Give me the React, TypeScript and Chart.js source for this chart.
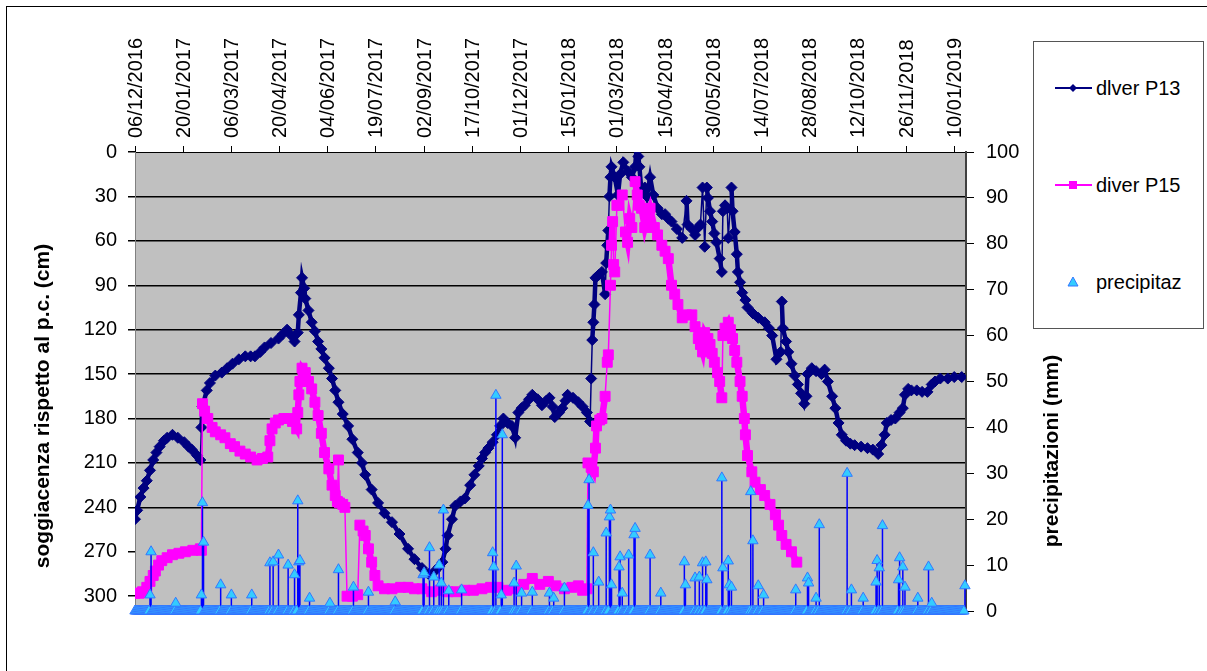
import React, { useEffect, useRef } from "react";
import { Chart, registerables } from "chart.js";

Chart.register(...registerables);

// ---------------- DATA ----------------
// x = days since 06/12/2016
const X_MAX_DAY = 776;
const TICK_STEP_DAYS = 45;

const dateTickLabels = [
  "06/12/2016", "20/01/2017", "06/03/2017", "20/04/2017", "04/06/2017", "19/07/2017",
  "02/09/2017", "17/10/2017", "01/12/2017", "15/01/2018", "01/03/2018", "15/04/2018",
  "30/05/2018", "14/07/2018", "28/08/2018", "12/10/2018", "26/11/2018", "10/01/2019",
];

// diver P13 (cm below ground level)
const p13Series: [number, number][] = [
  [0,248],[2,242],[5,233],[8,227],[11,222],[14,215],[17,208],[20,203],[23,199],[27,195],[30,193],[35,191],
  [40,193],[46,196],[50,199],[53,201],[58,205],[61,208],[62,186],[63,172],[67,161],[70,156],[75,151],
  [81,149],[86,146],[91,143],[97,140],[103,138],[108,138],[112,138],[117,135],[121,132],[127,129],
  [134,126],[138,123],[142,120],[146,124],[149,128],[152,122],[153,110],[155,95],[156,85],[158,92],
  [159,99],[162,107],[165,115],[168,121],[171,128],[174,133],[177,139],[181,146],[184,153],[187,161],
  [190,169],[194,177],[199,185],[203,194],[208,203],[212,210],[215,218],[221,228],[227,237],[233,244],
  [240,250],[247,258],[255,268],[261,275],[268,281],[274,285],[280,283],[284,280],[287,277],[290,268],
  [292,259],[296,248],[299,239],[304,236],[308,234],[313,225],[317,218],[321,212],[324,207],[327,203],
  [330,200],[334,196],[338,191],[341,185],[344,180],[348,183],[352,185],[355,193],[358,176],[361,173],
  [364,171],[368,167],[371,164],[376,167],[380,171],[384,168],[387,166],[390,172],[392,179],[396,176],
  [399,173],[402,168],[404,164],[409,166],[414,169],[418,172],[422,176],[425,182],[426,153],[427,127],
  [428,115],[429,103],[430,85],[433,83],[436,81],[439,96],[440,75],[441,63],[442,53],[443,30],[444,17],
  [445,10],[448,17],[451,29],[453,15],[456,7],[460,13],[464,17],[467,10],[469,-8],[470,3],[471,10],
  [473,27],[476,24],[478,30],[481,17],[484,29],[488,38],[492,42],[495,42],[498,45],[501,47],[506,52],
  [511,58],[515,33],[516,49],[520,52],[523,56],[526,51],[528,49],[530,24],[532,64],[534,24],[535,31],
  [537,40],[539,47],[541,55],[543,61],[546,72],[548,81],[549,40],[551,36],[553,38],[554,58],[557,24],
  [558,40],[560,54],[562,69],[563,81],[565,88],[567,95],[570,100],[572,105],[577,109],[582,112],
  [588,115],[592,119],[595,124],[599,140],[603,135],[604,101],[605,119],[608,128],[610,135],[613,143],
  [616,151],[619,157],[622,163],[625,170],[627,165],[628,150],[632,146],[636,148],[641,150],[644,147],
  [647,155],[651,165],[654,173],[657,183],[660,191],[664,195],[668,197],[672,198],[678,199],[684,200],
  [689,201],[694,204],[697,198],[700,191],[702,183],[706,181],[710,180],[714,176],[717,173],[719,164],
  [722,160],[725,161],[730,161],[735,162],[740,162],[744,157],[747,155],[752,153],[759,153],[765,152],
  [772,152],
];

// diver P15 (cm below ground level)
const p15Series: [number, number][] = [
  [0,298],[4,298],[7,297],[11,294],[14,290],[17,286],[19,283],[22,279],[25,276],[30,274],[35,272],
  [41,271],[47,270],[54,269],[61,268],[62,269],[63,170],[65,175],[68,180],[72,186],[75,189],[80,191],
  [84,193],[89,197],[93,199],[98,202],[103,204],[108,206],[114,208],[119,207],[124,206],[126,195],
  [128,187],[131,183],[134,181],[139,180],[143,180],[147,182],[151,187],[152,176],[153,164],[154,155],
  [156,146],[159,149],[162,155],[165,160],[168,169],[171,178],[174,190],[177,203],[181,214],[184,225],
  [187,232],[189,236],[190,208],[191,237],[194,238],[196,240],[198,300],[203,300],[208,299],[210,252],
  [213,256],[215,259],[218,268],[221,277],[224,286],[227,293],[233,295],[240,295],[248,294],[255,294],
  [261,295],[268,295],[277,297],[285,296],[292,297],[300,297],[308,296],[316,296],[324,295],[332,294],
  [339,294],[347,296],[355,295],[363,292],[371,288],[378,292],[386,290],[393,293],[401,295],[408,294],
  [414,293],[418,296],[422,295],[423,210],[426,213],[428,216],[430,200],[431,185],[434,181],[436,180],
  [439,165],[441,142],[442,137],[444,90],[445,63],[446,47],[447,76],[448,81],[450,36],[452,36],[455,29],
  [458,54],[460,61],[462,45],[464,51],[467,20],[469,29],[471,36],[473,38],[476,51],[478,45],[481,38],
  [485,51],[488,56],[492,63],[495,67],[498,72],[501,90],[504,96],[507,103],[511,112],[515,110],
  [520,110],[523,118],[526,126],[528,130],[530,135],[532,122],[535,126],[537,130],[539,136],[541,142],
  [544,149],[546,155],[548,166],[549,124],[551,119],[554,115],[556,120],[558,126],[560,134],[562,142],
  [565,155],[567,165],[569,180],[570,191],[572,205],[576,216],[579,223],[584,228],[588,232],[593,238],
  [598,245],[601,252],[604,259],[608,265],[613,270],[618,277],
];

// precipitation events (day, mm); every other recorded day is 0 mm
const RAIN_RECORD_FIRST_DAY = 0;
const RAIN_RECORD_LAST_DAY = 775;
const rainEvents: [number, number][] = [
  [14,3.5],[15,12.9],[38,1.7],[62,3.5],[63,23.6],[64,15],[80,5.7],[90,3.5],[109,3.5],[126,10.5],
  [129,10.7],[134,12.2],[143,10],[149,7.9],[152,24],[153,10.7],[154,11],[163,2.8],[182,1.7],[190,9],
  [204,5.2],[218,4.1],[243,2],[269,7.9],[270,8.3],[275,13.8],[279,7.4],[284,10],[286,6.1],[288,22],
  [293,4.4],[305,4.6],[334,12.7],[335,9.6],[337,47],[342,3.5],[343,38.4],[354,6.1],[356,9.8],
  [361,3.9],[371,4.1],[387,3.9],[391,2.8],[401,5],[423,23],[424,28.6],[428,12.7],[433,6.3],[440,17],
  [443,20.5],[444,22],[445,5.7],[452,9.6],[453,11.8],[455,3.9],[461,12.2],[466,16.6],[467,18],
  [481,12.2],[491,3.9],[513,10.7],[514,5.7],[523,7.2],[527,7.4],[530,10.5],[533,10.7],[534,6.8],
  [548,29],[549,9.4],[554,10.9],[555,5.7],[557,5.2],[575,26],[577,15.3],[582,5.5],[587,3.5],
  [617,4.6],[628,7.2],[629,6.1],[636,2.8],[639,18.8],[665,30],[669,4.6],[680,2.8],[692,6.3],
  [693,11],[695,9.4],[698,18.6],[713,6.8],[714,11.6],[717,9.6],[719,5.2],[731,2.8],[741,9.6],
  [744,1.7],[775,5.5],
];

// ---------------- STYLE ----------------
const FONT = '"Liberation Sans", Arial, sans-serif';
const NAVY = "#000080";
const MAGENTA = "#FF00FF";
const TRI_FILL = "#33CCFF";
const TRI_BORDER = "#3377FF";
const DROP = "#0000FF";

const bgPlugin = {
  id: "plotBg",
  beforeDraw(chart: any) {
    const { ctx, chartArea } = chart;
    ctx.save();
    ctx.fillStyle = "#C0C0C0";
    ctx.fillRect(chartArea.left, chartArea.top, chartArea.right - chartArea.left, chartArea.bottom - chartArea.top);
    ctx.restore();
  },
};

const titlesPlugin = {
  id: "axisTitles",
  afterDraw(chart: any) {
    const { ctx } = chart;
    const draw = (text: string, x: number, y: number) => {
      ctx.save();
      ctx.translate(x, y);
      ctx.rotate(-Math.PI / 2);
      ctx.font = `bold 21px ${FONT}`;
      ctx.fillStyle = "#000";
      ctx.textAlign = "center";
      ctx.textBaseline = "middle";
      ctx.fillText(text, 0, 0);
      ctx.restore();
    };
    draw("soggiacenza rispetto al p.c. (cm)", 43, 406);
    draw("precipitazioni (mm)", 1052, 451);
  },
};

const segWidth = (thick: number) => (c: any) =>
  Math.hypot(c.p1.x - c.p0.x, c.p1.y - c.p0.y) > 28 ? 1.5 : thick;

export default function App() {
  const ref = useRef<HTMLCanvasElement | null>(null);

  useEffect(() => {
    if (!ref.current) return;
    const eventDays = new Set(rainEvents.map((e) => e[0]));
    const rainPoints: { x: number; y: number }[] = [];
    for (let d = RAIN_RECORD_FIRST_DAY; d <= RAIN_RECORD_LAST_DAY; d++) {
      if (!eventDays.has(d)) rainPoints.push({ x: d, y: 0 });
    }
    rainEvents.forEach(([d, mm]) => rainPoints.push({ x: d, y: mm }));
    const dropPoints: { x: number; y: number | null }[] = [];
    rainEvents.forEach(([d, mm]) => {
      dropPoints.push({ x: d, y: 0 }, { x: d, y: mm }, { x: d, y: null });
    });

    const chart = new Chart(ref.current, {
      type: "line",
      data: {
        datasets: [
          {
            label: "precipitaz",
            data: rainPoints,
            yAxisID: "y1",
            showLine: false,
            pointStyle: "triangle",
            pointRadius: 6,
            pointBackgroundColor: TRI_FILL,
            pointBorderColor: TRI_BORDER,
            pointBorderWidth: 1,
            order: 0,
            clip: false,
          } as any,
          {
            label: "drop",
            data: dropPoints,
            yAxisID: "y1",
            borderColor: DROP,
            borderWidth: 1.5,
            pointRadius: 0,
            spanGaps: false,
            order: 1,
          } as any,
          {
            label: "dlver P13",
            data: p13Series.map(([x, y]) => ({ x, y })),
            yAxisID: "y",
            borderColor: NAVY,
            borderWidth: 4,
            pointStyle: "rectRot",
            pointRadius: 5.5,
            pointBackgroundColor: NAVY,
            pointBorderColor: NAVY,
            pointBorderWidth: 1,
            tension: 0,
            segment: { borderWidth: segWidth(4.5) },
            order: 3,
          } as any,
          {
            label: "diver P15",
            data: p15Series.map(([x, y]) => ({ x, y })),
            yAxisID: "y",
            borderColor: MAGENTA,
            borderWidth: 6,
            pointStyle: "rect",
            pointRadius: 7,
            pointBackgroundColor: MAGENTA,
            pointBorderColor: MAGENTA,
            pointBorderWidth: 1,
            tension: 0,
            segment: { borderWidth: segWidth(6.5) },
            order: 2,
          } as any,
        ],
      },
      options: {
        animation: false,
        responsive: false,
        maintainAspectRatio: false,
        events: [],
        layout: { padding: { left: 0, right: 0, top: 0, bottom: 60 } },
        plugins: { legend: { display: false }, tooltip: { enabled: false } },
        scales: {
          x: {
            type: "linear",
            position: "top",
            min: 0,
            max: X_MAX_DAY,
            ticks: {
              stepSize: TICK_STEP_DAYS,
              autoSkip: false,
              includeBounds: false,
              minRotation: 90,
              maxRotation: 90,
              padding: 8,
              labelOffset: 25,
              color: "#000",
              font: { family: FONT, size: 20 },
              callback: (v: any) => dateTickLabels[Math.round(Number(v) / TICK_STEP_DAYS)] ?? "",
            },
            grid: { drawOnChartArea: false, tickLength: 6, color: "#000", tickColor: "#000" },
            border: { color: "#000", width: 1 },
            afterFit: (s: any) => { s.height = 152; },
          },
          y: {
            type: "linear",
            position: "left",
            reverse: true,
            min: 0,
            max: 310,
            ticks: {
              stepSize: 30,
              includeBounds: false,
              padding: 11,
              color: "#000",
              font: { family: FONT, size: 20 },
            },
            grid: {
              tickLength: 7,
              lineWidth: 1.5,
              tickColor: "#000",
              color: (c: any) => {
                const v = c.tick ? c.tick.value : 0;
                return v > 0 && v <= 240 ? "#000" : "rgba(0,0,0,0)";
              },
            },
            border: { color: "#808080", width: 1 },
            afterFit: (s: any) => { s.width = 135; },
          },
          y1: {
            type: "linear",
            position: "right",
            min: 0,
            max: 100,
            ticks: {
              stepSize: 10,
              includeBounds: false,
              padding: 12,
              color: "#000",
              font: { family: FONT, size: 20 },
            },
            grid: { drawOnChartArea: false, tickLength: 8, color: "#000", tickColor: "#000" },
            border: { color: "#404040", width: 2 },
            afterFit: (s: any) => { s.width = 1207 - 966; },
          },
        },
      } as any,
      plugins: [bgPlugin, titlesPlugin],
    });
    return () => chart.destroy();
  }, []);

  const legendRow = (top: number, symbol: React.ReactNode, text: string) => (
    <div
      style={{
        position: "absolute",
        left: 1052,
        top: top - 14,
        height: 28,
        display: "flex",
        alignItems: "center",
        whiteSpace: "nowrap",
      }}
    >
      <svg width={42} height={20} style={{ display: "block" }}>{symbol}</svg>
      <span style={{ fontFamily: FONT, fontSize: 20, color: "#000", marginLeft: 2 }}>{text}</span>
    </div>
  );

  return (
    <div
      style={{
        position: "absolute",
        left: 0,
        top: 0,
        width: 1207,
        height: 671,
        overflow: "hidden",
        background: "#fff",
      }}
    >
      <div
        style={{
          position: "absolute",
          left: 6,
          top: 6,
          width: 1400,
          height: 900,
          borderTop: "1px solid #000",
          borderLeft: "1px solid #000",
        }}
      />
      <canvas ref={ref} width={1207} height={671} style={{ position: "absolute", left: 0, top: 0 }} />
      <div
        style={{
          position: "absolute",
          left: 1033,
          top: 41,
          width: 169,
          height: 286,
          border: "1px solid #555",
          background: "#fff",
        }}
      />
      {legendRow(
        88,
        <g>
          <line x1={3} y1={10} x2={40} y2={10} stroke={NAVY} strokeWidth={2} />
          <polygon points="21,6 25,10 21,14 17,10" fill={NAVY} />
        </g>,
        "dlver P13"
      )}
      {legendRow(
        185,
        <g>
          <line x1={3} y1={10} x2={40} y2={10} stroke={MAGENTA} strokeWidth={2} />
          <rect x={17} y={6} width={8} height={8} fill={MAGENTA} />
        </g>,
        "diver P15"
      )}
      {legendRow(
        282,
        <g>
          <polygon points="21,5 26,14 16,14" fill={TRI_FILL} stroke={TRI_BORDER} strokeWidth={1} />
        </g>,
        "precipitaz"
      )}
    </div>
  );
}
